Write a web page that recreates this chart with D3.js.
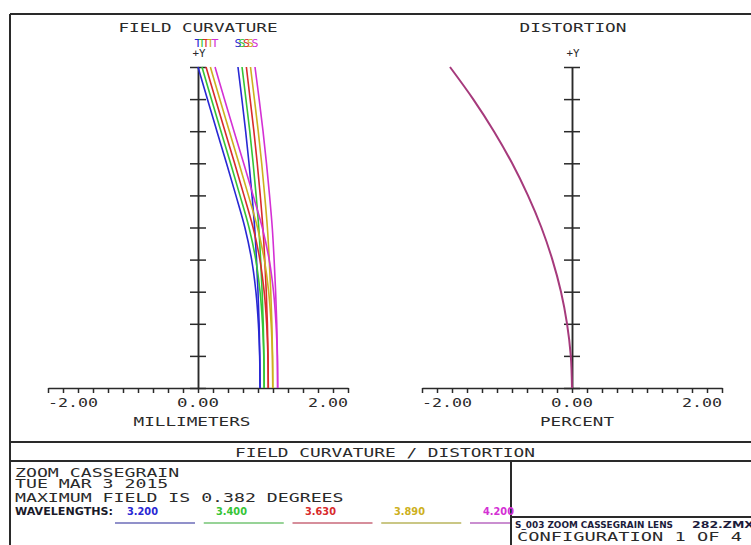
<!DOCTYPE html>
<html>
<head>
<meta charset="utf-8">
<script src="https://cdn.jsdelivr.net/npm/d3@7"></script>
<style>
  body { margin: 0; background: #fff; }
  svg text { font-family: "DejaVu Sans Mono", monospace; }
</style>
</head>
<body>
<div id="chart"></div>
<script>
const width = 751;
const height = 545;

// relative field height (0 = on axis, 1 = max field 0.382 deg)
const fieldHeights = [0, 0.1, 0.2, 0.3, 0.4, 0.5, 0.6, 0.7, 0.8, 0.9, 1.0];

const wavelengths = ["3.200", "3.400", "3.630", "3.890", "4.200"];
const waveColors = ["#2828d4", "#36c436", "#d82c2c", "#cdb020", "#d430d4"];
const underlineColors = ["#6c6cb8", "#74c474", "#c8687a", "#b8b45c", "#b868c0"];

// field curvature, millimeters, one row per wavelength
const tangential = [
  [0.827, 0.822, 0.805, 0.772, 0.715, 0.625, 0.505, 0.380, 0.252, 0.125, 0.000],
  [0.882, 0.877, 0.860, 0.827, 0.770, 0.680, 0.559, 0.434, 0.306, 0.178, 0.053],
  [0.937, 0.932, 0.915, 0.882, 0.825, 0.734, 0.613, 0.488, 0.360, 0.232, 0.107],
  [0.997, 0.992, 0.975, 0.942, 0.884, 0.793, 0.672, 0.546, 0.418, 0.290, 0.165],
  [1.062, 1.057, 1.040, 1.007, 0.949, 0.857, 0.735, 0.609, 0.480, 0.352, 0.227]
];
const sagittal = [
  [0.827, 0.824, 0.815, 0.800, 0.780, 0.755, 0.720, 0.680, 0.635, 0.585, 0.533],
  [0.882, 0.879, 0.870, 0.855, 0.835, 0.810, 0.775, 0.735, 0.690, 0.639, 0.587],
  [0.937, 0.934, 0.925, 0.910, 0.890, 0.865, 0.830, 0.790, 0.745, 0.695, 0.645],
  [0.997, 0.994, 0.985, 0.970, 0.950, 0.925, 0.889, 0.849, 0.803, 0.752, 0.700],
  [1.062, 1.059, 1.050, 1.035, 1.015, 0.990, 0.954, 0.913, 0.867, 0.815, 0.760]
];

// distortion, percent
const distortion = [0, -0.016, -0.066, -0.147, -0.262, -0.408, -0.588, -0.798, -1.042, -1.318, -1.627];

const xTickLabels = ["-2.00", "0.00", "2.00"];
const infoLines = ["ZOOM CASSEGRAIN", "TUE MAR 3 2015", "MAXIMUM FIELD IS 0.382 DEGREES"];

const ink = "#2a2a2a";

const svg = d3.select("#chart")
  .append("svg")
  .attr("width", width)
  .attr("height", height);

// text helper, squeezes the string into a given width like the plotter font
function label(sel, str, x, y, w, anchor, size, color, weight, family) {
  const x0 = anchor === "middle" ? x - w / 2 : anchor === "end" ? x - w : x;
  return sel.append("text")
    .attr("x", x0)
    .attr("y", y)
    .attr("textLength", w)
    .attr("lengthAdjust", "spacingAndGlyphs")
    .style("font-size", size + "px")
    .style("font-weight", weight || "normal")
    .style("font-family", family || null)
    .attr("fill", color || ink)
    .text(str);
}

const y = d3.scaleLinear().domain([0, 1]).range([388, 67]);
const xFC = d3.scaleLinear().domain([-2, 2]).range([48, 348]);
const xDist = d3.scaleLinear().domain([-2, 2]).range([422, 722]);

const minorTicks = d3.range(-20, 21).map(i => i / 10);
const yTicks = fieldHeights;

function drawAxes(x) {
  const g = svg.append("g");
  // x axis, ticks hanging below
  g.append("g")
    .attr("transform", `translate(0,${y(0)})`)
    .call(d3.axisBottom(x).tickValues(minorTicks.filter((d, i) => i % 2 === 0)).tickSize(5).tickSizeOuter(0).tickFormat(""));
  // y axis drawn as crosses
  g.append("g")
    .attr("transform", `translate(${x(0)},0)`)
    .call(d3.axisLeft(y).tickValues(yTicks).tickSize(8).tickSizeOuter(0).tickFormat(""));
  g.append("g")
    .attr("transform", `translate(${x(0)},0)`)
    .call(d3.axisRight(y).tickValues(yTicks).tickSize(8).tickSizeOuter(0).tickFormat(""));
  g.selectAll("path.domain, .tick line")
    .attr("stroke", ink)
    .attr("stroke-width", 1.5);

  label(g, xTickLabels[0], x(-2), 407, 50, "start", 12.5);
  label(g, xTickLabels[1], x(0), 407, 42, "middle", 12.5);
  label(g, xTickLabels[2], x(2), 407, 40, "end", 12.5);
  label(g, "+Y", x(0) + 1, 57, 13, "middle", 10);
  return g;
}

// ---- field curvature panel
drawAxes(xFC);
label(svg, "FIELD CURVATURE", 198, 32, 159, "middle", 12.5);
label(svg, "MILLIMETERS", 192, 426, 117, "middle", 12.5);

const fcLine = d3.line()
  .x(d => xFC(d[0]))
  .y(d => y(d[1]))
  .curve(d3.curveCatmullRom);

wavelengths.forEach((w, i) => {
  svg.append("path")
    .datum(tangential[i].map((v, j) => [v, fieldHeights[j]]))
    .attr("fill", "none")
    .attr("stroke", waveColors[i])
    .attr("stroke-width", 1.6)
    .attr("d", fcLine);
  svg.append("path")
    .datum(sagittal[i].map((v, j) => [v, fieldHeights[j]]))
    .attr("fill", "none")
    .attr("stroke", waveColors[i])
    .attr("stroke-width", 1.6)
    .attr("d", fcLine);
});

// T / S markers over the top of each curve (they pile up like in the plot)
wavelengths.forEach((w, i) => {
  label(svg, "T", xFC(tangential[i][10]), 47, 7, "middle", 10, waveColors[i]);
  label(svg, "S", xFC(sagittal[i][10]), 47, 7, "middle", 10, waveColors[i]);
});

// ---- distortion panel
drawAxes(xDist);
label(svg, "DISTORTION", 573, 32, 107, "middle", 12.5);
label(svg, "PERCENT", 577, 426, 74, "middle", 12.5);

svg.append("path")
  .datum(distortion.map((v, j) => [v, fieldHeights[j]]))
  .attr("fill", "none")
  .attr("stroke", "#a63a7c")
  .attr("stroke-width", 2)
  .attr("d", d3.line().x(d => xDist(d[0])).y(d => y(d[1])).curve(d3.curveCatmullRom));

// ---- frame and info block
const frame = svg.append("g")
  .attr("stroke", ink)
  .attr("stroke-width", 2)
  .attr("fill", "none");
frame.append("line").attr("x1", 10).attr("x2", width).attr("y1", 14).attr("y2", 14);
frame.append("line").attr("x1", 10).attr("x2", 10).attr("y1", 14).attr("y2", height);
frame.append("line").attr("x1", 10).attr("x2", width).attr("y1", 442).attr("y2", 442);
frame.append("line").attr("x1", 10).attr("x2", width).attr("y1", 461).attr("y2", 461);

label(svg, "FIELD CURVATURE / DISTORTION", 385, 457, 300, "middle", 12.5);

infoLines.forEach((t, i) => {
  label(svg, t, 15, [477, 488, 502][i], t.length * 10.95, "start", 11.5);
});
label(svg, "WAVELENGTHS:", 15, 515, 98, "start", 10.5, "#1a1a2a", "bold", "DejaVu Sans");

wavelengths.forEach((w, i) => {
  svg.append("line")
    .attr("x1", 115 + i * 88.75)
    .attr("x2", 115 + i * 88.75 + 80)
    .attr("y1", 523)
    .attr("y2", 523)
    .attr("stroke", underlineColors[i])
    .attr("stroke-width", 1.6);
});

// title box bottom right
svg.append("rect")
  .attr("x", 511).attr("y", 517)
  .attr("width", 260).attr("height", 60)
  .attr("fill", "#fff")
  .attr("stroke", ink)
  .attr("stroke-width", 2);
frame.append("line").attr("x1", 511).attr("x2", 511).attr("y1", 461).attr("y2", height);

wavelengths.forEach((w, i) => {
  label(svg, w, 127 + i * 89, 515, 31, "start", 10.5, waveColors[i], "bold", "DejaVu Sans");
});

label(svg, "S_003 ZOOM CASSEGRAIN LENS", 515, 528, 158, "start", 8.5, "#1c1c3c", "bold", "DejaVu Sans");
label(svg, "282.ZMX", 692, 528, 62, "start", 8.5, "#1c1c3c", "bold", "DejaVu Sans");
label(svg, "CONFIGURATION 1 OF 4", 517, 541, 225, "start", 12.5);
</script>
</body>
</html>
